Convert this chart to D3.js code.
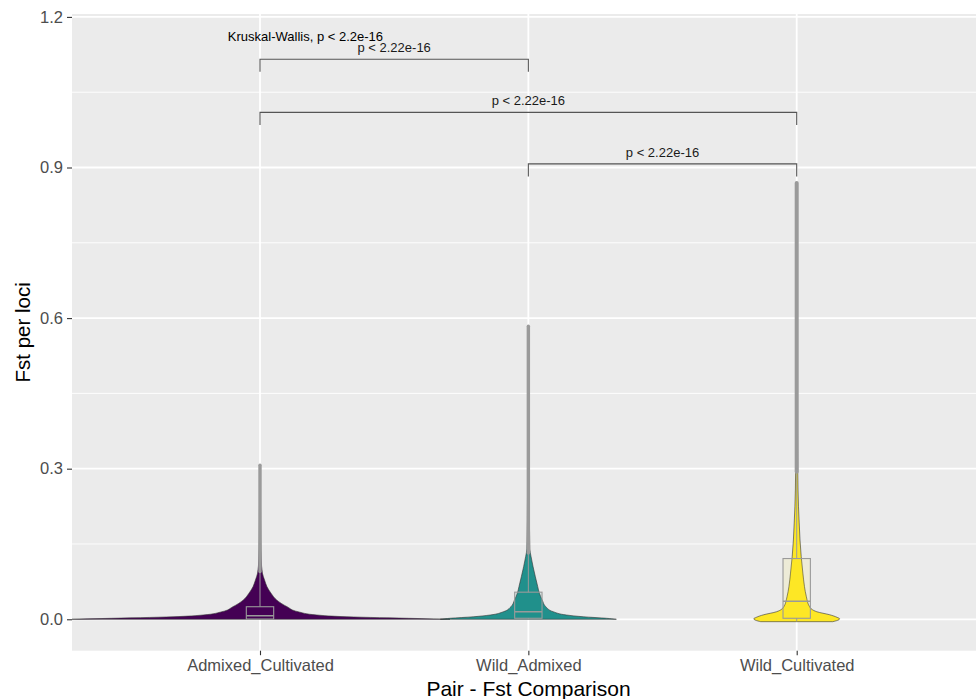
<!DOCTYPE html>
<html>
<head>
<meta charset="utf-8">
<script src="https://cdn.jsdelivr.net/npm/d3@7"></script>
<style>
  html, body { margin: 0; padding: 0; background: #ffffff; }
  svg { display: block; font-family: "Liberation Sans", Arial, sans-serif; }
</style>
</head>
<body>
<svg id="chart" width="976" height="699"></svg>
<script>
// ---------------- data ----------------
const categories = ["Admixed_Cultivated", "Wild_Admixed", "Wild_Cultivated"];
const fillColors = ["#440154", "#21908C", "#FDE725"];
const yTicks = [0.0, 0.3, 0.6, 0.9, 1.2];
const yMinorTicks = [0.15, 0.45, 0.75, 1.05];

// violin profiles: [Fst value, half width in category units]
const violinAdmixedCultivated = [
  [0, 0.708], [0.0015, 0.589], [0.005, 0.324], [0.0085, 0.212], [0.015, 0.142],
  [0.025, 0.101], [0.038, 0.063], [0.052, 0.041], [0.065, 0.026], [0.078, 0.017],
  [0.092, 0.009], [0.12, 0.0045], [0.2, 0.0022], [0.307, 0.001]
];
const violinWildAdmixed = [
  [0, 0.328], [0.002, 0.291], [0.005, 0.205], [0.0085, 0.142], [0.015, 0.093],
  [0.025, 0.065], [0.038, 0.052], [0.052, 0.041], [0.065, 0.035], [0.085, 0.026],
  [0.105, 0.0175], [0.125, 0.010], [0.14, 0.0056], [0.25, 0.003], [0.4, 0.0019], [0.584, 0.001]
];
const violinWildCultivated = [
  [-0.0048, 0.134], [-0.002, 0.153], [0.001, 0.160], [0.004, 0.150], [0.009, 0.123],
  [0.015, 0.075], [0.025, 0.048], [0.045, 0.036], [0.065, 0.029], [0.092, 0.023],
  [0.125, 0.0168], [0.158, 0.0123], [0.192, 0.0093], [0.224, 0.0067], [0.291, 0.0041],
  [0.5, 0.0022], [0.869, 0.001]
];
const violins = [violinAdmixedCultivated, violinWildAdmixed, violinWildCultivated];

// box statistics
const boxLower   = [0.0005, 0.002, 0.002];
const boxMedian  = [0.007, 0.015, 0.036];
const boxUpper   = [0.025, 0.054, 0.121];
const whiskerLow = [0.0, 0.0, -0.004];
const whiskerHigh = [0.095, 0.132, 0.294];
// range covered by the (dense) outlier points
const outlierLow  = [0.095, 0.132, 0.294];
const outlierHigh = [0.307, 0.584, 0.869];

// pairwise comparison brackets
const bracketFrom = ["Admixed_Cultivated", "Admixed_Cultivated", "Wild_Admixed"];
const bracketTo   = ["Wild_Admixed", "Wild_Cultivated", "Wild_Cultivated"];
const bracketY    = [1.1158, 1.0098, 0.9072];
const bracketLabels = ["p < 2.22e-16", "p < 2.22e-16", "p < 2.22e-16"];
const kruskalLabel = "Kruskal-Wallis, p < 2.2e-16";
const kruskalPos = [0.88, 1.153]; // [category position (1-based), Fst]

const xTitle = "Pair - Fst Comparison";
const yTitle = "Fst per loci";

// ---------------- layout ----------------
const svg = d3.select("#chart");
const panel = { left: 72, right: 985, top: 14, bottom: 650.7 };

const y = d3.scaleLinear().domain([-0.0626, 1.2058]).range([panel.bottom, panel.top]);
const x = d3.scalePoint().domain(categories).range([260, 796.7]);
const step = x.step();
const xPos = p => x(categories[0]) + (p - 1) * step; // 1-based numeric position
const w = d3.scaleLinear().domain([0, 1]).range([0, step]);

// panel background
svg.append("rect")
  .attr("x", panel.left).attr("y", panel.top)
  .attr("width", panel.right - panel.left).attr("height", panel.bottom - panel.top)
  .attr("fill", "#EBEBEB");

// grid
const grid = svg.append("g");
grid.selectAll("line.minor").data(yMinorTicks).join("line")
  .attr("x1", panel.left).attr("x2", panel.right)
  .attr("y1", d => y(d)).attr("y2", d => y(d))
  .attr("stroke", "#ffffff").attr("stroke-width", 0.9);
grid.selectAll("line.major").data(yTicks).join("line")
  .attr("x1", panel.left).attr("x2", panel.right)
  .attr("y1", d => y(d)).attr("y2", d => y(d))
  .attr("stroke", "#ffffff").attr("stroke-width", 1.8);
grid.selectAll("line.vmajor").data(categories).join("line")
  .attr("x1", d => x(d)).attr("x2", d => x(d))
  .attr("y1", panel.top).attr("y2", panel.bottom)
  .attr("stroke", "#ffffff").attr("stroke-width", 1.8);

// clip to panel
svg.append("clipPath").attr("id", "clip").append("rect")
  .attr("x", panel.left).attr("y", panel.top)
  .attr("width", panel.right - panel.left).attr("height", panel.bottom - panel.top);
const plot = svg.append("g").attr("clip-path", "url(#clip)");

// violins
categories.forEach((cat, i) => {
  const cx = x(cat);
  const area = d3.area()
    .y(d => y(d[0]))
    .x0(d => cx - w(d[1]))
    .x1(d => cx + w(d[1]))
    .curve(d3.curveMonotoneY);
  plot.append("path")
    .datum(violins[i])
    .attr("d", area)
    .attr("fill", fillColors[i])
    .attr("stroke", "#333333")
    .attr("stroke-width", 0.6);
});

// outliers (dense columns of points)
categories.forEach((cat, i) => {
  plot.append("line")
    .attr("x1", x(cat)).attr("x2", x(cat))
    .attr("y1", y(outlierLow[i])).attr("y2", y(outlierHigh[i]))
    .attr("stroke", "#9A9A9A").attr("stroke-width", i === 2 ? 4 : 3.4)
    .attr("stroke-linecap", "round");
});

// boxplots
const boxHalf = 0.051;
categories.forEach((cat, i) => {
  const cx = x(cat);
  const g = plot.append("g");
  g.append("line")
    .attr("x1", cx).attr("x2", cx)
    .attr("y1", y(boxUpper[i])).attr("y2", y(whiskerHigh[i]))
    .attr("stroke", "#9A9A9A").attr("stroke-width", 1);
  g.append("line")
    .attr("x1", cx).attr("x2", cx)
    .attr("y1", y(boxLower[i])).attr("y2", y(whiskerLow[i]))
    .attr("stroke", "#9A9A9A").attr("stroke-width", 1);
  g.append("rect")
    .attr("x", cx - w(boxHalf)).attr("width", 2 * w(boxHalf))
    .attr("y", y(boxUpper[i])).attr("height", y(boxLower[i]) - y(boxUpper[i]))
    .attr("fill", fillColors[i]).attr("fill-opacity", 0.1)
    .attr("stroke", "#9A9A9A").attr("stroke-width", 1.1);
  g.append("line")
    .attr("x1", cx - w(boxHalf)).attr("x2", cx + w(boxHalf))
    .attr("y1", y(boxMedian[i])).attr("y2", y(boxMedian[i]))
    .attr("stroke", "#9A9A9A").attr("stroke-width", 1.4);
});

// brackets
const tickLen = 0.025;
bracketFrom.forEach((from, i) => {
  const x1 = x(from), x2 = x(bracketTo[i]), yy = y(bracketY[i]);
  const yb = y(bracketY[i] - tickLen);
  plot.append("path")
    .attr("d", `M${x1},${yb}V${yy}H${x2}V${yb}`)
    .attr("fill", "none").attr("stroke", "#555555").attr("stroke-width", 1.1);
  plot.append("text")
    .attr("x", (x1 + x2) / 2).attr("y", yy - 7)
    .attr("text-anchor", "middle")
    .attr("font-size", 13).attr("fill", "#1a1a1a")
    .text(bracketLabels[i]);
});
plot.append("text")
  .attr("x", xPos(kruskalPos[0])).attr("y", y(kruskalPos[1]))
  .attr("font-size", 13).attr("fill", "#000000")
  .text(kruskalLabel);

// axes
const yAxis = d3.axisLeft(y).tickValues(yTicks).tickFormat(d3.format(".1f")).tickSize(5).tickPadding(4);
const gy = svg.append("g").attr("transform", `translate(${panel.left},0)`).call(yAxis);
gy.select(".domain").remove();
gy.selectAll(".tick line").attr("stroke", "#333333").attr("stroke-width", 1.1);
gy.selectAll(".tick text").attr("fill", "#4D4D4D").attr("font-size", 16.5)
  .attr("font-family", "'Liberation Sans', Arial, sans-serif");

const xAxis = d3.axisBottom(x).tickSize(4.5).tickPadding(4);
const gx = svg.append("g").attr("transform", `translate(0,${panel.bottom})`).call(xAxis);
gx.select(".domain").remove();
gx.selectAll(".tick line").attr("stroke", "#333333").attr("stroke-width", 1.1);
gx.selectAll(".tick text").attr("fill", "#4D4D4D").attr("font-size", 16.5)
  .attr("font-family", "'Liberation Sans', Arial, sans-serif");

// titles
svg.append("text")
  .attr("x", (panel.left + panel.right) / 2).attr("y", 696)
  .attr("text-anchor", "middle").attr("font-size", 21).attr("fill", "#000000")
  .text(xTitle);
svg.append("text")
  .attr("transform", `translate(30,${(panel.top + panel.bottom) / 2}) rotate(-90)`)
  .attr("text-anchor", "middle").attr("font-size", 20.5).attr("fill", "#000000")
  .text(yTitle);
</script>
</body>
</html>
